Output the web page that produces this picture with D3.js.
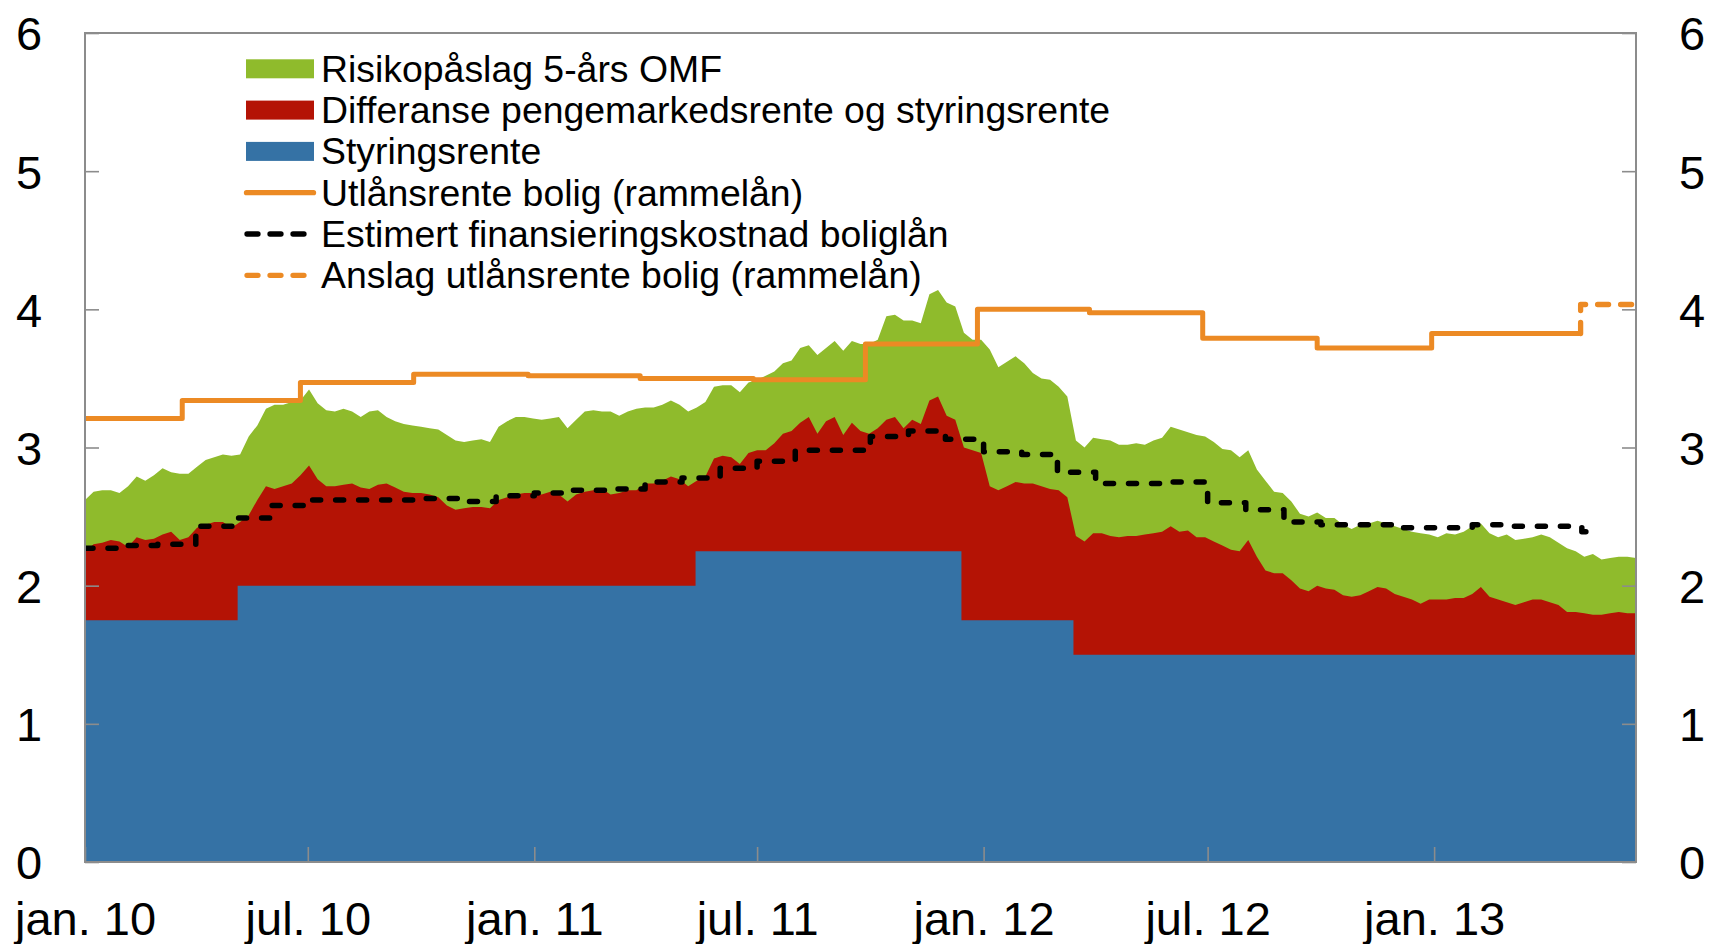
<!DOCTYPE html>
<html><head><meta charset="utf-8">
<script src="https://cdn.jsdelivr.net/npm/d3@7"></script>
<style>
body{margin:0;background:#fff}
svg{display:block}
text{font-family:"Liberation Sans",Arial,Helvetica,sans-serif;fill:#000}
</style>
</head><body>
<svg id="chart" width="1709" height="944"></svg>
<script>
// ---------------- DATA ----------------
// Weekly observations, first one on 2010-01-01, one every 7 days (181 weeks)
const weeklyStart = "2010-01-01";
const weekStepDays = 7;

// Differanse pengemarkedsrente og styringsrente (percentage points), weekly
const spreadMoneyMarket = [
0.50,0.55,0.56,0.58,0.57,0.53,0.60,0.58,0.59,0.62,0.64,0.58,0.60,0.67,0.69,0.71,0.71,0.67,0.46,0.51,
0.62,0.72,0.70,0.72,0.74,0.80,0.87,0.77,0.72,0.72,0.73,0.74,0.71,0.70,0.73,0.74,0.71,0.68,0.67,0.67,
0.66,0.64,0.58,0.55,0.56,0.57,0.57,0.56,0.62,0.64,0.66,0.67,0.67,0.66,0.68,0.66,0.61,0.66,0.68,0.69,
0.70,0.66,0.67,0.69,0.69,0.74,0.74,0.76,0.79,0.77,0.72,0.51,0.54,0.67,0.69,0.68,0.63,0.71,0.73,0.73,
0.78,0.85,0.87,0.93,0.97,0.85,0.94,0.97,0.84,0.93,0.87,0.85,0.89,0.95,0.97,0.89,0.95,0.92,1.09,1.12,
0.98,0.95,1.25,1.23,1.21,0.97,0.94,0.97,1.00,0.99,0.99,0.97,0.95,0.94,0.89,0.86,0.82,0.88,0.88,0.86,
0.85,0.86,0.86,0.87,0.88,0.89,0.93,0.89,0.90,0.85,0.85,0.82,0.79,0.76,0.75,0.83,0.71,0.61,0.59,0.59,
0.54,0.48,0.46,0.50,0.48,0.47,0.43,0.42,0.43,0.46,0.49,0.48,0.44,0.42,0.40,0.37,0.40,0.40,0.40,0.41,
0.41,0.44,0.49,0.42,0.40,0.38,0.36,0.38,0.40,0.40,0.38,0.36,0.31,0.31,0.30,0.29,0.29,0.30,0.31,0.30,
0.30];

// Risikopåslag 5-års OMF (percentage points), weekly
const riskPremiumOMF = [
0.37,0.38,0.38,0.36,0.35,0.44,0.44,0.43,0.46,0.48,0.43,0.48,0.46,0.44,0.47,0.47,0.49,0.52,0.49,0.57,
0.54,0.56,0.61,0.59,0.59,0.54,0.55,0.55,0.55,0.54,0.55,0.52,0.51,0.56,0.54,0.48,0.48,0.49,0.49,0.48,
0.48,0.49,0.51,0.50,0.48,0.48,0.49,0.48,0.53,0.55,0.56,0.55,0.54,0.54,0.53,0.56,0.53,0.54,0.58,0.58,
0.56,0.60,0.56,0.57,0.59,0.55,0.55,0.55,0.55,0.54,0.54,0.53,0.54,0.52,0.51,0.52,0.52,0.51,0.51,0.54,
0.52,0.51,0.51,0.54,0.52,0.57,0.53,0.55,0.61,0.59,0.63,0.65,0.64,0.75,0.74,0.78,0.72,0.73,0.77,0.77,
0.82,0.82,0.83,0.80,0.82,0.99,0.89,0.90,0.91,0.87,0.80,0.78,0.79,0.75,0.73,0.69,0.68,0.69,0.68,0.69,
0.67,0.66,0.67,0.65,0.67,0.68,0.72,0.74,0.71,0.74,0.73,0.72,0.70,0.72,0.68,0.65,0.63,0.65,0.59,0.58,
0.57,0.54,0.54,0.53,0.51,0.52,0.51,0.49,0.51,0.49,0.48,0.47,0.49,0.49,0.49,0.51,0.47,0.45,0.48,0.46,
0.48,0.49,0.46,0.46,0.45,0.49,0.47,0.46,0.45,0.47,0.47,0.45,0.46,0.44,0.41,0.44,0.40,0.40,0.40,0.41,
0.40];

// Styringsrente (policy rate), change dates and levels
const policyDates = ["2010-01-01","2010-05-05","2011-05-12","2011-12-14","2012-03-14"];
const policyRates = [1.75, 2.00, 2.25, 1.75, 1.50];

// Utlånsrente bolig (rammelån), change dates and levels
const lendingDates = ["2010-01-01","2010-03-21","2010-06-25","2010-09-25","2010-12-27","2011-03-28",
  "2011-06-28","2011-09-27","2011-12-27","2012-03-27","2012-06-27","2012-09-28","2012-12-30"];
const lendingRates = [3.21, 3.34, 3.47, 3.53, 3.52, 3.50, 3.49, 3.75, 4.00, 3.975, 3.79, 3.72, 3.825];
const lendingEnd = "2013-04-30";

// Anslag utlånsrente bolig (rammelån)
const forecastDates = ["2013-04-30"];
const forecastRates = [4.035];

// Estimert finansieringskostnad boliglån, monthly from jan. 2010
const fundingStart = "2010-01-01";
const fundingCost = [
2.27,2.29,2.30,2.43,2.49,2.58,2.62,2.62,2.62,2.63,2.61,2.65,
2.67,2.69,2.70,2.75,2.78,2.85,2.90,2.98,2.98,3.08,3.12,3.06,
2.97,2.95,2.82,2.74,2.74,2.75,2.60,2.55,2.46,2.44,2.44,2.42,
2.42,2.44,2.43,2.43,2.39];
const fundingEnd = "2013-05-16";

// Axes
const xDomain = ["2010-01-01","2013-06-14"];
const xTickDates = ["2010-01-01","2010-07-01","2011-01-01","2011-07-01","2012-01-01","2012-07-01","2013-01-01"];
const xTickLabels = ["jan. 10","jul. 10","jan. 11","jul. 11","jan. 12","jul. 12","jan. 13"];
const yTicks = [0,1,2,3,4,5,6];

const legendLabels = ["Risikopåslag 5-års OMF","Differanse pengemarkedsrente og styringsrente","Styringsrente",
  "Utlånsrente bolig (rammelån)","Estimert finansieringskostnad boliglån","Anslag utlånsrente bolig (rammelån)"];

// ---------------- STYLE ----------------
const C = {green:"#8FBB2C", red:"#B41305", blue:"#3572A5", orange:"#EC8A24", black:"#000", axis:"#8C8C8C"};
const W = 1709, H = 944;
const plot = {left:85, right:1636, top:33, bottom:862};

// ---------------- BUILD ----------------
const parse = d3.timeParse("%Y-%m-%d");
const svg = d3.select("#chart");

const x = d3.scaleTime().domain(xDomain.map(parse)).range([plot.left, plot.right]);
const y = d3.scaleLinear().domain([0, 6]).range([plot.bottom, plot.top]);

const pDates = policyDates.map(parse);
const policyAt = d => { const k = d3.bisectRight(pDates, d) - 1; return policyRates[Math.max(0, k)]; };

const start = parse(weeklyStart);
const rows = spreadMoneyMarket.map((s, i) => {
  const date = d3.timeDay.offset(start, i * weekStepDays);
  return {date, policy: policyAt(date), spread: s, risk: riskPremiumOMF[i]};
});
const stacked = d3.stack().keys(["policy","spread","risk"])(rows);

svg.append("defs").append("clipPath").attr("id","clip")
  .append("rect").attr("x", plot.left).attr("y", plot.top)
  .attr("width", plot.right - plot.left).attr("height", plot.bottom - plot.top);

const g = svg.append("g").attr("clip-path","url(#clip)");

const areaTop = d3.area().x((d,i) => x(rows[i].date)).y0(y(0)).y1(d => y(d[1]));
// green (full stack) then red (policy + spread)
g.append("path").datum(stacked[2]).attr("d", areaTop).attr("fill", C.green);
g.append("path").datum(stacked[1]).attr("d", areaTop).attr("fill", C.red);

// blue policy rate as steps
const endDate = x.domain()[1];
const stepPts = (dates, vals, end) => {
  const pts = [];
  dates.forEach((d, i) => {
    const next = i < dates.length - 1 ? dates[i+1] : end;
    pts.push([d, vals[i]]); pts.push([next, vals[i]]);
  });
  return pts;
};
const policyPts = stepPts(pDates, policyRates, endDate);
g.append("path").datum(policyPts)
  .attr("d", d3.area().x(d => x(d[0])).y0(y(0)).y1(d => y(d[1])))
  .attr("fill", C.blue);

const line = d3.line().x(d => x(d[0])).y(d => y(d[1]));

// lending rate
const lendPts = stepPts(lendingDates.map(parse), lendingRates, parse(lendingEnd));
g.append("path").datum(lendPts).attr("d", line)
  .attr("fill","none").attr("stroke", C.orange).attr("stroke-width", 5).attr("stroke-linejoin","round");

// forecast (dashed) starting from last actual level
const fDates = forecastDates.map(parse);
const fcPts = [[parse(lendingEnd), lendingRates[lendingRates.length-1]]].concat(stepPts(fDates, forecastRates, endDate));
g.append("path").datum(fcPts).attr("d", line)
  .attr("fill","none").attr("stroke", C.orange).attr("stroke-width", 5.3)
  .attr("stroke-dasharray","11,12").attr("stroke-linecap","round").attr("stroke-linejoin","round");

// funding cost (black dashed)
const fStart = parse(fundingStart);
const fundDates = fundingCost.map((v, i) => d3.timeMonth.offset(fStart, i));
const fundPts = stepPts(fundDates, fundingCost, parse(fundingEnd));
g.append("path").datum(fundPts).attr("d", line)
  .attr("fill","none").attr("stroke", C.black).attr("stroke-width", 5.5)
  .attr("stroke-dasharray","8,15").attr("stroke-linecap","round").attr("stroke-linejoin","round");

// ---------------- AXES ----------------
const fontSize = 47;
const styleAxis = sel => {
  sel.select(".domain").remove();
  sel.selectAll(".tick line").attr("stroke", C.axis).attr("stroke-width", 1.6);
  sel.selectAll(".tick text").attr("font-size", fontSize).attr("fill","#000")
    .attr("font-family", '"Liberation Sans",Arial,sans-serif');
};
svg.append("g").attr("transform", `translate(${plot.left},0)`)
  .call(d3.axisLeft(y).tickValues(yTicks).tickFormat(d3.format("d")).tickSizeInner(-14).tickSizeOuter(0).tickPadding(42))
  .call(styleAxis)
  .selectAll(".tick text").attr("text-anchor","middle").attr("x", 29 - plot.left).attr("dy","0.36em");
svg.append("g").attr("transform", `translate(${plot.right},0)`)
  .call(d3.axisRight(y).tickValues(yTicks).tickFormat(d3.format("d")).tickSizeInner(-14).tickSizeOuter(0).tickPadding(42))
  .call(styleAxis)
  .selectAll(".tick text").attr("text-anchor","middle").attr("x", 1692 - plot.right).attr("dy","0.36em");
const xTicks = xTickDates.map(parse);
svg.append("g").attr("transform", `translate(0,${plot.bottom})`)
  .call(d3.axisBottom(x).tickValues(xTicks).tickFormat((d,i) => xTickLabels[i]).tickSizeInner(-15).tickSizeOuter(0).tickPadding(40))
  .call(styleAxis);

// frame
svg.append("rect").attr("x", plot.left).attr("y", plot.top)
  .attr("width", plot.right - plot.left).attr("height", plot.bottom - plot.top)
  .attr("fill","none").attr("stroke", C.axis).attr("stroke-width", 2);

// ---------------- LEGEND ----------------
const leg = svg.append("g");
const legY0 = 68.8, legDy = 41.3, swX = 246, swW = 68, txtX = 321;
const legendKinds = [
  {type:"rect", color:C.green},
  {type:"rect", color:C.red},
  {type:"rect", color:C.blue},
  {type:"line", color:C.orange},
  {type:"dash", color:C.black},
  {type:"dash", color:C.orange}
];
legendKinds.forEach((k, i) => {
  const cy = legY0 + i * legDy;
  if (k.type === "rect") {
    leg.append("rect").attr("x", swX).attr("y", cy - 9.5).attr("width", swW).attr("height", 19).attr("fill", k.color);
  } else if (k.type === "line") {
    leg.append("line").attr("x1", swX + 0.5).attr("x2", swX + swW - 0.5).attr("y1", cy).attr("y2", cy)
      .attr("stroke", k.color).attr("stroke-width", 5.3).attr("stroke-linecap","round");
  } else {
    leg.append("line").attr("x1", swX + 1).attr("x2", swX + 58).attr("y1", cy).attr("y2", cy)
      .attr("stroke", k.color).attr("stroke-width", 5.3).attr("stroke-linecap","round")
      .attr("stroke-dasharray","11,12");
  }
  leg.append("text").attr("x", txtX).attr("y", cy + 12.8).attr("font-size", 37.4).text(legendLabels[i]);
});
</script>
</body></html>
